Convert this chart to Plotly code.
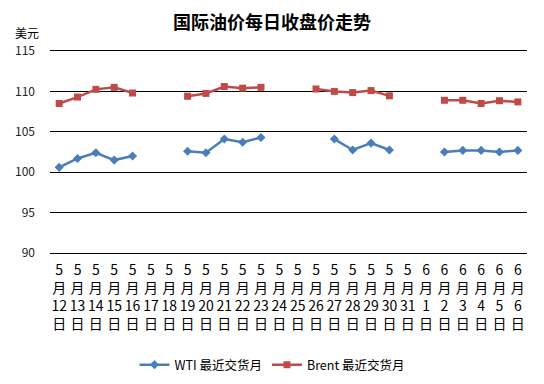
import plotly.graph_objects as go

dates = ["5月12日","5月13日","5月14日","5月15日","5月16日","5月17日","5月18日",
         "5月19日","5月20日","5月21日","5月22日","5月23日","5月24日","5月25日",
         "5月26日","5月27日","5月28日","5月29日","5月30日","5月31日",
         "6月1日","6月2日","6月3日","6月4日","6月5日","6月6日"]
tick_text = ["%s<br>月<br>%s<br>日" % (d.split("月")[0], d.split("月")[1][:-1]) for d in dates]

wti = [100.6, 101.7, 102.4, 101.5, 102.0, None, None,
       102.6, 102.4, 104.1, 103.7, 104.3, None, None,
       None, 104.1, 102.75, 103.6, 102.75, None,
       None, 102.5, 102.7, 102.7, 102.5, 102.7]
brent = [108.5, 109.3, 110.25, 110.5, 109.8, None, None,
         109.4, 109.75, 110.6, 110.4, 110.5, None, None,
         110.3, 110.0, 109.85, 110.1, 109.45, None,
         None, 108.9, 108.9, 108.5, 108.85, 108.7]
y_ticks = [90, 95, 100, 105, 110, 115]

fig = go.Figure()
fig.add_trace(go.Scatter(x=dates, y=wti, mode="lines+markers", name="WTI 最近交货月",
                         line=dict(color="#4A7EBB", width=2.5),
                         marker=dict(symbol="diamond", size=7, color="#4A7EBB"),
                         connectgaps=False))
fig.add_trace(go.Scatter(x=dates, y=brent, mode="lines+markers", name="Brent 最近交货月",
                         line=dict(color="#BE4B48", width=2.5),
                         marker=dict(symbol="square", size=7, color="#BE4B48"),
                         connectgaps=False))

fig.update_layout(
    width=544, height=384,
    margin=dict(l=50, r=17, t=51, b=131, autoexpand=False),
    paper_bgcolor="white", plot_bgcolor="white",
    font=dict(family="Noto Sans CJK SC, sans-serif", size=12, color="#000"),
    title=dict(text="<b>国际油价每日收盘价走势</b>", x=0.5, xanchor="center",
               y=1 - 23/384, yanchor="middle",
               font=dict(size=18, color="#000", family="Noto Sans CJK SC")),
    showlegend=True,
    legend=dict(orientation="h", x=0.5, xanchor="center", xref="container",
                y=1 - 365/384, yanchor="middle", yref="container",
                font=dict(size=12.5, family="Noto Sans CJK SC"),
                traceorder="normal"),
    xaxis=dict(type="category", categoryorder="array", categoryarray=dates,
               tickmode="array", tickvals=dates, ticktext=tick_text,
               showgrid=False, showline=True, mirror=True, linecolor="black",
               linewidth=1, ticks="", zeroline=False,
               tickfont=dict(size=14), tickangle=0, automargin=False,
               ticklabelstandoff=4,
               range=[-0.5, len(dates) - 0.5]),
    yaxis=dict(range=[90, 115], tickvals=y_ticks, showgrid=True, gridcolor="black",
               gridwidth=1, zeroline=False, showline=False, ticks="", automargin=False,
               tickfont=dict(size=12, color="#222"), ticklabelstandoff=14),
)
fig.add_annotation(text="美元", xref="paper", yref="paper", x=(13 - 50) / 477,
                   y=(253 - 33) / 202, xanchor="left", yanchor="middle",
                   showarrow=False, font=dict(size=12, color="#000"))
fig.write_html("out.html", post_script="document.body.style.margin='0';",
               config={"displayModeBar": False})
